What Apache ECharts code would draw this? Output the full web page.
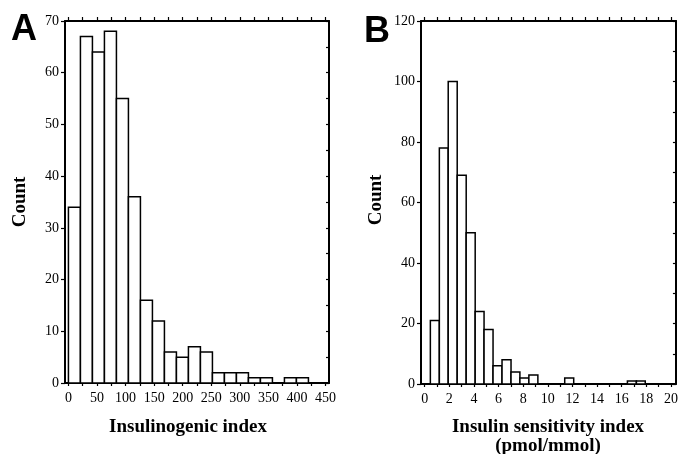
<!DOCTYPE html>
<html><head><meta charset="utf-8">
<script src="https://cdn.jsdelivr.net/npm/echarts@6/dist/echarts.min.js"></script>
<style>html,body{margin:0;padding:0;background:#fff}#c{width:681px;height:454px}</style>
</head><body><div id="c"></div>
<script>
// Panel A: Insulinogenic index histogram
const aEdges = [0,21,42,63,84,105,126,147,168,189,210,231,252,273,294,315,336,357,378,399,420];
const aCounts = [34,67,64,68,55,36,16,12,6,5,7,6,2,2,2,1,1,0,1,1];
const aXLabels = [0,50,100,150,200,250,300,350,400,450];
const aXTicks = [0,25,50,75,100,125,150,175,200,225,250,275,300,325,350,375,400,425,450];
const aYLabels = [0,10,20,30,40,50,60,70];
const aYTicks = [0,5,10,15,20,25,30,35,40,45,50,55,60,65,70];

// Panel B: Insulin sensitivity index histogram
const bEdges = [0.46,1.19,1.91,2.64,3.37,4.10,4.82,5.55,6.28,7.01,7.73,8.46,9.19,9.91,10.64,11.37,12.10,12.82,13.55,14.28,15.00,15.73,16.46,17.19,17.91];
const bCounts = [21,78,100,69,50,24,18,6,8,4,2,3,0,0,0,2,0,0,0,0,0,0,1,1];
const bXLabels = [0,2,4,6,8,10,12,14,16,18,20];
const bXTicks = [0,1,2,3,4,5,6,7,8,9,10,11,12,13,14,15,16,17,18,19,20];
const bYLabels = [0,20,40,60,80,100,120];
const bYTicks = [0,10,20,30,40,50,60,70,80,90,100,110,120];

function toData(edges, counts){
  return counts.map((c,i)=>[edges[i], edges[i+1], c]);
}
const serif = 'Liberation Serif';
const lbl = {fontFamily: serif, fontSize: 14, color: '#000'};
const line = {show:true, onZero:false, lineStyle:{color:'#000', width:2}};

function xAxes(grid, min, max, labels, ticks){
  return [
    {type:'value', gridIndex:grid, position:'bottom', min:min, max:max,
     axisLine:line, splitLine:{show:false},
     axisTick:{show:true, length:3, customValues:ticks, lineStyle:{color:'#000', width:1.2}},
     axisLabel:Object.assign({customValues:labels, margin:8}, lbl)},
    {type:'value', gridIndex:grid, position:'top', min:min, max:max,
     axisLine:line, splitLine:{show:false},
     axisTick:{show:true, length:4, customValues:ticks, lineStyle:{color:'#000', width:1.2}},
     axisLabel:{show:false}}
  ];
}
function yAxes(grid, max, labels, ticks){
  return [
    {type:'value', gridIndex:grid, position:'left', min:0, max:max,
     axisLine:line, splitLine:{show:false},
     axisTick:{show:true, length:4, customValues:labels, lineStyle:{color:'#000', width:1.2}},
     axisLabel:Object.assign({customValues:labels, margin:6}, lbl)},
    {type:'value', gridIndex:grid, position:'right', min:0, max:max,
     axisLine:line, splitLine:{show:false},
     axisTick:{show:true, inside:true, length:3, customValues:ticks, lineStyle:{color:'#000', width:1.2}},
     axisLabel:{show:false}}
  ];
}
function renderBar(params, api){
  const p0 = api.coord([api.value(0), api.value(2)]);
  const p1 = api.coord([api.value(1), 0]);
  return {type:'rect', shape:{x:p0[0], y:p0[1], width:p1[0]-p0[0], height:p1[1]-p0[1]},
          style:{fill:'#fff', stroke:'#000', lineWidth:1.5}};
}
const chart = echarts.init(document.getElementById('c'), null, {renderer:'canvas'});
chart.setOption({
  backgroundColor:'#fff',
  animation:false,
  grid:[
    {left:65, top:21, width:264, height:362},
    {left:421, top:21, width:259, height:363}
  ],
  xAxis: xAxes(0, -6, 456, aXLabels, aXTicks).concat(xAxes(1, -0.3, 20.4, bXLabels, bXTicks)),
  yAxis: yAxes(0, 70, aYLabels, aYTicks).concat(yAxes(1, 120, bYLabels, bYTicks)),
  series:[
    {type:'custom', xAxisIndex:0, yAxisIndex:0, data:toData(aEdges,aCounts), renderItem:renderBar, encode:{x:[0,1], y:2}},
    {type:'custom', xAxisIndex:2, yAxisIndex:2, data:toData(bEdges,bCounts), renderItem:renderBar, encode:{x:[0,1], y:2}}
  ],
  graphic:[
    {type:'text', left:11, top:12, style:{text:'A', font:'bold 36px "Liberation Sans"', fill:'#000'}},
    {type:'text', left:364, top:14, style:{text:'B', font:'bold 36px "Liberation Sans"', fill:'#000'}},
    {type:'text', x:20, y:202, rotation:Math.PI/2, style:{text:'Count', font:'bold 19px "Liberation Serif"', fill:'#000', align:'center', verticalAlign:'middle'}},
    {type:'text', x:376, y:200, rotation:Math.PI/2, style:{text:'Count', font:'bold 19px "Liberation Serif"', fill:'#000', align:'center', verticalAlign:'middle'}},
    {type:'text', x:188, y:427, style:{text:'Insulinogenic index', font:'bold 19px "Liberation Serif"', fill:'#000', align:'center', verticalAlign:'middle'}},
    {type:'text', x:548, y:427, style:{text:'Insulin sensitivity index', font:'bold 19px "Liberation Serif"', fill:'#000', align:'center', verticalAlign:'middle'}},
    {type:'text', x:548, y:446, style:{text:'(pmol/mmol)', font:'bold 19px "Liberation Serif"', fill:'#000', align:'center', verticalAlign:'middle'}}
  ]
});
</script></body></html>
